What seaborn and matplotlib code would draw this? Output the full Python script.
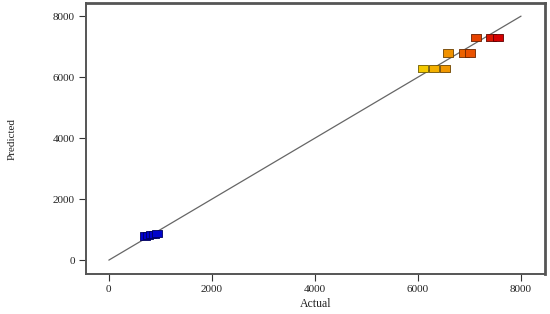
import pandas as pd
import seaborn as sns
from matplotlib import pyplot as plt
from matplotlib.colors import LinearSegmentedColormap, Normalize

sns.set_style("white")
plt.rcParams['font.family'] = ['Liberation Serif', 'DejaVu Serif']

# actual vs predicted values
actual = [700, 760, 820, 880, 930,
          6100, 6320, 6520,
          6580, 6900, 7000,
          7130, 7420, 7560]
predicted = [790, 810, 830, 850, 870,
             6290, 6290, 6290,
             6790, 6790, 6790,
             7310, 7310, 7310]

line_x = [0, 8000]
line_y = [0, 8000]

ticks = [0, 2000, 4000, 6000, 8000]

df = pd.DataFrame({"Actual": actual, "Predicted": predicted})

cmap = LinearSegmentedColormap.from_list(
    "de", [(0.0, "#0000cc"), (0.12, "#0011cc"), (0.5, "#22bb44"),
           (0.78, "#f5d000"), (0.86, "#f09000"), (0.93, "#e84a00"),
           (1.0, "#d40000")])
norm = Normalize(700, 7560)
# darker outline of each marker's own colour
edges = [tuple(c * 0.45 for c in cmap(norm(v))[:3]) for v in actual]

fig = plt.figure(figsize=(5.5, 3.14), dpi=100)
ax = fig.add_axes([0.156, 0.127, 0.835, 0.863])

ax.plot(line_x, line_y, color="#666666", lw=0.9, zorder=1)

rect = [(-1.4, -1), (1.4, -1), (1.4, 1), (-1.4, 1), (-1.4, -1)]
sns.scatterplot(data=df, x="Actual", y="Predicted", hue="Actual",
                palette=cmap, hue_norm=norm, marker=rect, s=52,
                edgecolor=edges, linewidth=0.6, legend=False, ax=ax,
                zorder=3)

ax.set_xlim(-447, 8466)
ax.set_ylim(-459, 8426)
ax.set_xticks(ticks)
ax.set_yticks(ticks)
ax.set_xticklabels([str(t) for t in ticks])
ax.set_yticklabels([str(t) for t in ticks])

ax.tick_params(axis="both", direction="out", length=5, width=0.8,
               color="#333333", labelsize=8, labelcolor="#222222", pad=3,
               bottom=True, left=True)

for side, sp in ax.spines.items():
    sp.set_color("#555555")
    sp.set_linewidth(1.4)
ax.spines["right"].set_linewidth(2.0)
ax.spines["top"].set_linewidth(2.0)

ax.set_xlabel("Actual", fontsize=8.5, color="#222222", labelpad=3)
ax.set_ylabel("Predicted", fontsize=8, color="#222222", labelpad=26)

plt.savefig("out.png", dpi=100)
